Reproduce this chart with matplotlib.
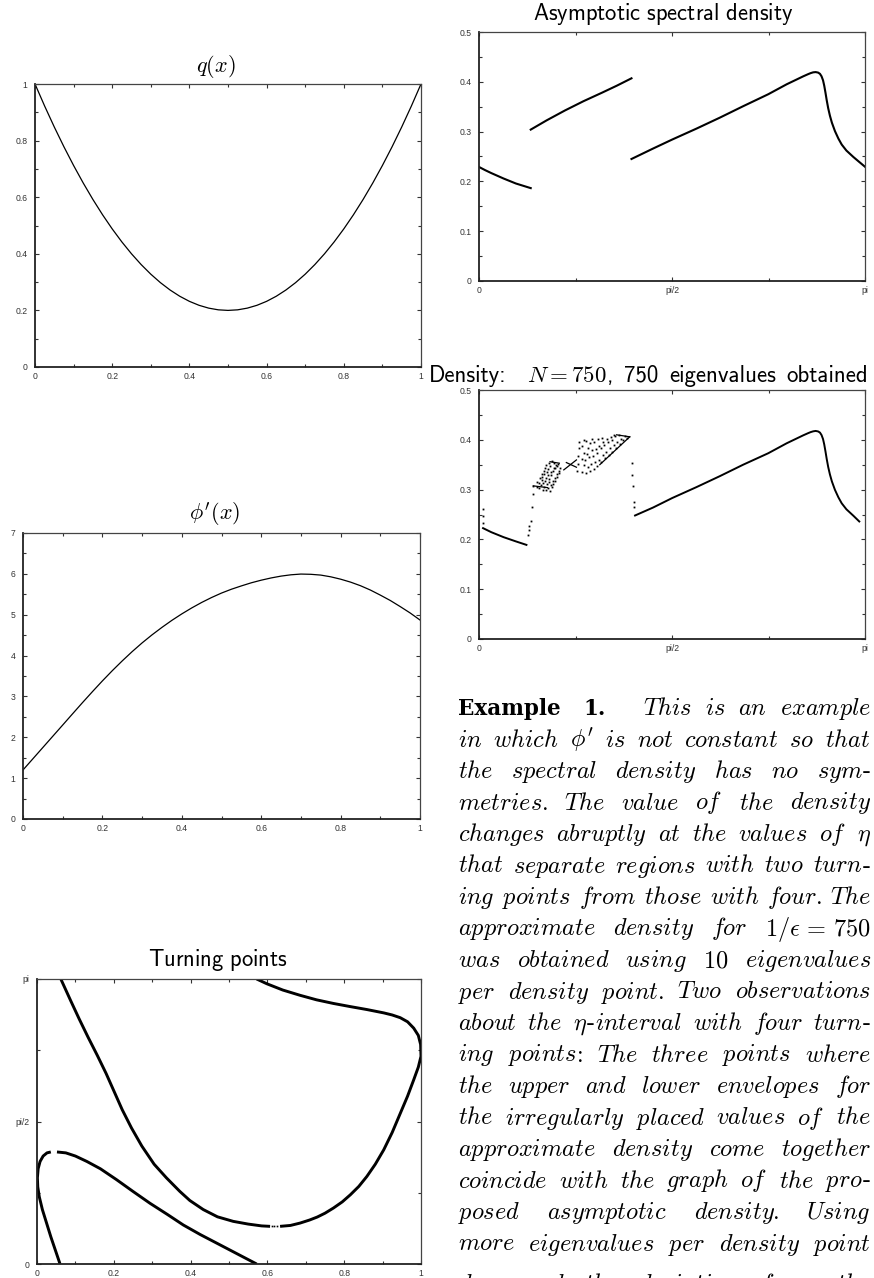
import os
import re
import numpy as np
import matplotlib
matplotlib.use("Agg")
import matplotlib.pyplot as plt
from matplotlib.ticker import FixedLocator, FixedFormatter
from matplotlib.font_manager import FontProperties

plt.rcParams['mathtext.fontset'] = 'cm'

PI = np.pi
TTF = os.path.join(matplotlib.get_data_path(), 'fonts', 'ttf')

# ---------------- data ----------------
# q(x)
q_x = [0.000, 0.025, 0.050, 0.075, 0.100, 0.125, 0.150, 0.175, 0.200, 0.225,
       0.250, 0.275, 0.300, 0.325, 0.350, 0.375, 0.400, 0.425, 0.450, 0.475,
       0.500, 0.525, 0.550, 0.575, 0.600, 0.625, 0.650, 0.675, 0.700, 0.725,
       0.750, 0.775, 0.800, 0.825, 0.850, 0.875, 0.900, 0.925, 0.950, 0.975, 1.000]
q_y = [1.000, 0.922, 0.848, 0.778, 0.712, 0.650, 0.592, 0.538, 0.488, 0.442,
       0.400, 0.362, 0.328, 0.298, 0.272, 0.250, 0.232, 0.218, 0.208, 0.202,
       0.200, 0.202, 0.208, 0.218, 0.232, 0.250, 0.272, 0.298, 0.328, 0.362,
       0.400, 0.442, 0.488, 0.538, 0.592, 0.650, 0.712, 0.778, 0.848, 0.922, 1.000]

# phi'(x)
dphi_x = q_x
dphi_y = [1.200, 1.475, 1.750, 2.025, 2.300, 2.576, 2.850, 3.118, 3.380, 3.631,
          3.870, 4.097, 4.310, 4.507, 4.690, 4.862, 5.020, 5.166, 5.300, 5.421,
          5.530, 5.624, 5.705, 5.781, 5.845, 5.900, 5.945, 5.977, 5.995, 5.989,
          5.970, 5.928, 5.870, 5.798, 5.710, 5.604, 5.480, 5.349, 5.200, 5.044, 4.870]

# asymptotic spectral density: three branches
as1_x = [0.000, 0.050, 0.100, 0.200, 0.300, 0.421]
as1_y = [0.2290, 0.2226, 0.2167, 0.2058, 0.1958, 0.1865]
as2_x = [0.421, 0.550, 0.700, 0.850, 1.000, 1.120, 1.241]
as2_y = [0.3040, 0.3225, 0.3425, 0.3610, 0.3780, 0.3920, 0.4070]
as3_x = [1.241, 1.417, 1.572, 1.770, 1.960, 2.150, 2.354, 2.504, 2.580, 2.639,
         2.680, 2.700, 2.720, 2.740, 2.760, 2.775, 2.788, 2.800, 2.810, 2.820,
         2.830, 2.842, 2.856, 2.872, 2.897, 2.925, 2.952, 2.990, 3.047, 3.095, 3.142]
as3_y = [0.2450, 0.2660, 0.2840, 0.3060, 0.3280, 0.3510, 0.3750, 0.3950, 0.4040, 0.4110,
         0.4155, 0.4175, 0.4190, 0.4195, 0.4185, 0.4160, 0.4110, 0.4030, 0.3920, 0.3780,
         0.3630, 0.3470, 0.3320, 0.3180, 0.3010, 0.2860, 0.2740, 0.2620, 0.2490, 0.2390, 0.2293]

# approximate density, N = 750
dn1_x = [0.033, 0.100, 0.200, 0.300, 0.386]
dn1_y = [0.2226, 0.2145, 0.2045, 0.1960, 0.1890]
dn3_x = [1.270, 1.417, 1.572, 1.770, 1.960, 2.150, 2.354, 2.504, 2.580, 2.639,
         2.680, 2.700, 2.720, 2.740, 2.760, 2.775, 2.788, 2.800, 2.810, 2.820,
         2.830, 2.842, 2.856, 2.872, 2.897, 2.925, 2.952, 2.990, 3.047, 3.095]
dn3_y = [0.2480, 0.2640, 0.2830, 0.3050, 0.3270, 0.3500, 0.3730, 0.3930, 0.4020, 0.4090,
         0.4135, 0.4155, 0.4170, 0.4178, 0.4168, 0.4145, 0.4095, 0.4015, 0.3905, 0.3765,
         0.3615, 0.3455, 0.3305, 0.3165, 0.2995, 0.2845, 0.2725, 0.2605, 0.2475, 0.2360]
# short stretches where neighbouring density values join up
dn_seg_x = [[0.442, 0.557], [0.578, 0.654], [0.690, 0.793], [0.711, 0.793],
            [0.983, 1.227], [1.120, 1.227]]
dn_seg_y = [[0.3075, 0.3040], [0.3560, 0.3530], [0.3396, 0.3596], [0.3543, 0.3449],
            [0.3500, 0.4060], [0.4100, 0.4060]]
# isolated density values
dn_dot_x = [0.030, 0.031, 0.032,
            0.396, 0.404, 0.410, 0.421, 0.429, 0.437, 0.442,
            1.243, 1.248, 1.254, 1.259, 1.264,
            0.468, 0.474, 0.486, 0.491, 0.495, 0.501, 0.509, 0.512,
            0.517, 0.523, 0.514, 0.527, 0.531, 0.538, 0.529, 0.541,
            0.547, 0.553, 0.544, 0.556, 0.549, 0.562, 0.568, 0.565, 0.559, 0.571,
            0.576, 0.583, 0.573, 0.588, 0.581, 0.597, 0.594, 0.601, 0.590, 0.608, 0.612,
            0.606, 0.618, 0.603, 0.628, 0.621, 0.633, 0.617, 0.641,
            0.637, 0.648, 0.632, 0.652, 0.660,
            0.800, 0.803, 0.806, 0.810, 0.815,
            0.838, 0.851, 0.842, 0.857, 0.836, 0.853,
            0.871, 0.884, 0.866, 0.881, 0.889, 0.870,
            0.904, 0.913, 0.898, 0.917, 0.902, 0.922,
            0.934, 0.945, 0.929, 0.949, 0.938,
            0.964, 0.973, 0.958, 0.979, 0.968,
            0.994, 1.006, 0.989, 1.011, 0.999,
            1.024, 1.035, 1.019, 1.041,
            1.054, 1.066, 1.049, 1.071,
            1.084, 1.097, 1.079, 1.101,
            1.114, 1.126, 1.109,
            1.144, 1.157, 1.139,
            1.174, 1.187, 1.205]
dn_dot_y = [0.262, 0.247, 0.233,
            0.209, 0.218, 0.226, 0.236, 0.266, 0.292, 0.307,
            0.353, 0.329, 0.307, 0.276, 0.265,
            0.306, 0.316, 0.304, 0.313, 0.324, 0.309, 0.319, 0.331,
            0.300, 0.313, 0.326, 0.338, 0.305, 0.318, 0.331, 0.344,
            0.299, 0.311, 0.323, 0.336, 0.349, 0.303, 0.316, 0.329, 0.342, 0.354,
            0.298, 0.310, 0.322, 0.335, 0.347, 0.357, 0.305, 0.318, 0.330, 0.343, 0.353,
            0.312, 0.324, 0.337, 0.350, 0.318, 0.331, 0.344, 0.352,
            0.326, 0.338, 0.348, 0.333, 0.344,
            0.338, 0.352, 0.368, 0.384, 0.395,
            0.336, 0.349, 0.361, 0.374, 0.388, 0.399,
            0.334, 0.346, 0.359, 0.371, 0.384, 0.397,
            0.338, 0.352, 0.365, 0.379, 0.393, 0.402,
            0.342, 0.356, 0.368, 0.381, 0.395,
            0.347, 0.360, 0.374, 0.388, 0.401,
            0.356, 0.369, 0.383, 0.396, 0.404,
            0.363, 0.376, 0.389, 0.401,
            0.370, 0.383, 0.395, 0.406,
            0.376, 0.389, 0.400, 0.409,
            0.384, 0.396, 0.408,
            0.391, 0.402, 0.410,
            0.399, 0.408, 0.404]

# turning points (x, eta)
tp_a_x = [0.062, 0.088, 0.110, 0.133, 0.157, 0.180, 0.201, 0.222, 0.246, 0.273,
          0.305, 0.337, 0.372, 0.398, 0.433, 0.470, 0.511, 0.550, 0.585, 0.607]
tp_a_y = [3.1416, 2.900, 2.700, 2.500, 2.300, 2.100, 1.900, 1.700, 1.500, 1.300,
          1.100, 0.950, 0.800, 0.700, 0.600, 0.520, 0.470, 0.440, 0.420, 0.415]
tp_b_x = [0.633, 0.660, 0.685, 0.710, 0.730, 0.750, 0.772, 0.795, 0.816, 0.838,
          0.859, 0.881, 0.903, 0.925, 0.946, 0.965, 0.981, 0.993, 1.000, 0.999,
          0.993, 0.981, 0.965, 0.946, 0.925, 0.903, 0.859, 0.815, 0.772, 0.728,
          0.685, 0.640, 0.598, 0.572]
tp_b_y = [0.415, 0.425, 0.451, 0.485, 0.518, 0.560, 0.617, 0.685, 0.763, 0.855,
          0.965, 1.100, 1.259, 1.450, 1.660, 1.850, 2.030, 2.170, 2.290, 2.420,
          2.520, 2.600, 2.670, 2.715, 2.745, 2.768, 2.805, 2.838, 2.872, 2.912,
          2.962, 3.020, 3.090, 3.1416]
tp_c_x = [0.060, 0.048, 0.036, 0.025, 0.014, 0.006, 0.002, 0.001, 0.003, 0.008,
          0.016, 0.026, 0.036]
tp_c_y = [0.000, 0.150, 0.300, 0.450, 0.600, 0.740, 0.850, 0.950, 1.050, 1.130,
          1.190, 1.225, 1.235]
tp_d_x = [0.052, 0.075, 0.100, 0.130, 0.165, 0.207, 0.250, 0.294, 0.340, 0.381,
          0.425, 0.468, 0.520, 0.572]
tp_d_y = [1.235, 1.225, 1.190, 1.130, 1.050, 0.930, 0.800, 0.670, 0.545, 0.430,
          0.325, 0.230, 0.115, 0.000]
tp_gap_x = [0.612, 0.618, 0.626]
tp_gap_y = [0.4140, 0.4135, 0.4140]

# tick positions and labels
unit_ticks = [0, 0.2, 0.4, 0.6, 0.8, 1.0]
unit_labels = ["0", "0.2", "0.4", "0.6", "0.8", "1"]
unit_minor = [0.1, 0.3, 0.5, 0.7, 0.9]
dphi_ticks = [0, 1, 2, 3, 4, 5, 6, 7]
dphi_labels = ["0", "1", "2", "3", "4", "5", "6", "7"]
dphi_minor = [0.5, 1.5, 2.5, 3.5, 4.5, 5.5, 6.5]
angle_ticks = [0, PI / 2, PI]
angle_labels = ["0", "pi/2", "pi"]
angle_minor = [PI / 4, 3 * PI / 4]
dens_ticks = [0, 0.1, 0.2, 0.3, 0.4, 0.5]
dens_labels = ["0", "0.1", "0.2", "0.3", "0.4", "0.5"]
dens_minor = [0.05, 0.15, 0.25, 0.35, 0.45]

# caption
CAPTION_HEAD = ["Example", "1."]
CAPTION = [
    ["This", "is", "an", "example"],
    ["in", "which", r"$\phi'$", "is", "not", "constant", "so", "that"],
    ["the", "spectral", "density", "has", "no", "sym-"],
    ["metries.", "The", "value", "of", "the", "density"],
    ["changes", "abruptly", "at", "the", "values", "of", r"$\eta$"],
    ["that", "separate", "regions", "with", "two", "turn-"],
    ["ing", "points", "from", "those", "with", "four.", "The"],
    ["approximate", "density", "for", r"$\mathrm{1}/\epsilon\,=\,\mathrm{750}$"],
    ["was", "obtained", "using", "10", "eigenvalues"],
    ["per", "density", "point.", "Two", "observations"],
    ["about", "the", r"$\eta$-interval", "with", "four", "turn-"],
    ["ing", "points:", "The", "three", "points", "where"],
    ["the", "upper", "and", "lower", "envelopes", "for"],
    ["the", "irregularly", "placed", "values", "of", "the"],
    ["approximate", "density", "come", "together"],
    ["coincide", "with", "the", "graph", "of", "the", "pro-"],
    ["posed", "asymptotic", "density.", "Using"],
    ["more", "eigenvalues", "per", "density", "point"],
    ["decreased", "the", "deviation", "from", "the"],
]

# ---------------- figure ----------------
W, H = 874, 1278
fig = plt.figure(figsize=(W / 100, H / 100), dpi=100)
renderer = fig.canvas.get_renderer()


def add_axes(left, top, right, bottom):
    return fig.add_axes([left / W, 1 - bottom / H, (right - left) / W, (bottom - top) / H])


def style(ax, xt, xl, xm, yt, yl, ym, xlim, ylim):
    ax.set_xlim(*xlim)
    ax.set_ylim(*ylim)
    ax.xaxis.set_major_locator(FixedLocator(xt))
    ax.xaxis.set_major_formatter(FixedFormatter(xl))
    ax.xaxis.set_minor_locator(FixedLocator(xm))
    ax.yaxis.set_major_locator(FixedLocator(yt))
    ax.yaxis.set_major_formatter(FixedFormatter(yl))
    ax.yaxis.set_minor_locator(FixedLocator(ym))
    ax.tick_params(which='both', direction='in', top=True, right=True,
                   color='#333333', width=0.8)
    ax.tick_params(which='major', length=3.2)
    ax.tick_params(which='minor', length=2.2)
    ax.tick_params(axis='y', pad=5.5)
    ax.tick_params(axis='x', pad=3.5)
    for lab in ax.get_xticklabels() + ax.get_yticklabels():
        lab.set_fontfamily('Liberation Sans')
        lab.set_fontsize(6.2)
        lab.set_color('#333333')
    for side in ('left', 'bottom'):
        ax.spines[side].set_linewidth(1.3)
        ax.spines[side].set_color('#222222')
    for side in ('top', 'right'):
        ax.spines[side].set_linewidth(0.9)
        ax.spines[side].set_color('#444444')


def title(x, y, s, size=16):
    fig.text(x / W, 1 - y / H, s, ha='center', va='center', fontsize=size, color='black')


# q(x)
ax = add_axes(35, 84, 421, 367)
ax.plot(q_x, q_y, color='black', lw=0.9)
style(ax, unit_ticks, unit_labels, unit_minor, unit_ticks, unit_labels, unit_minor,
      (0, 1), (0, 1))
title(216, 66, r"$q(x)$")

# phi'(x)
ax = add_axes(23, 533, 420, 819)
ax.plot(dphi_x, dphi_y, color='black', lw=0.9)
style(ax, unit_ticks, unit_labels, unit_minor, dphi_ticks, dphi_labels, dphi_minor,
      (0, 1), (0, 7))
title(215, 514, r"$\phi'(x)$")

# turning points
ax = add_axes(37, 979, 421, 1264)
for xs, ys in ((tp_a_x, tp_a_y), (tp_b_x, tp_b_y), (tp_c_x, tp_c_y), (tp_d_x, tp_d_y)):
    ax.plot(xs, ys, color='black', lw=2.1, solid_capstyle='butt', solid_joinstyle='round')
ax.plot(tp_gap_x, tp_gap_y, 's', color='black', ms=1.2, mew=0)
style(ax, unit_ticks, unit_labels, unit_minor, angle_ticks, angle_labels, angle_minor,
      (0, 1), (0, PI))
title(218, 960, r"$\mathsf{Turning\ points}$", size=16.3)

# asymptotic spectral density
ax = add_axes(479, 32, 865, 281)
for xs, ys in ((as1_x, as1_y), (as2_x, as2_y), (as3_x, as3_y)):
    ax.plot(xs, ys, color='black', lw=1.5, solid_joinstyle='round')
style(ax, angle_ticks, angle_labels, angle_minor, dens_ticks, dens_labels, dens_minor,
      (0, PI), (0, 0.5))
title(663, 14, r"$\mathsf{Asymptotic\ spectral\ density}$", size=16.3)

# approximate density
ax = add_axes(479, 390, 865, 639)
for xs, ys in ((dn1_x, dn1_y), (dn3_x, dn3_y)):
    ax.plot(xs, ys, color='black', lw=1.4, solid_joinstyle='round')
for xs, ys in zip(dn_seg_x, dn_seg_y):
    ax.plot(xs, ys, color='black', lw=0.9)
ax.plot(dn_dot_x, dn_dot_y, 's', color='black', ms=1.3, mew=0)
style(ax, angle_ticks, angle_labels, angle_minor, dens_ticks, dens_labels, dens_minor,
      (0, PI), (0, 0.5))

# title of the approximate-density panel, built from sans text and math pieces
TSIZE = 16.5
TBASE = 382
sans_font = FontProperties(fname=os.path.join(TTF, 'cmss10.ttf'), size=TSIZE)
pieces = [("Density:", sans_font, 2.0), (r"$N = 750$", None, 0.0), (",", sans_font, 1.0),
          ("750", sans_font, 1.0), ("eigenvalues", sans_font, 1.0), ("obtained", sans_font, 0.0)]
ptexts = []
for s, fp, _ in pieces:
    if fp is None:
        t = fig.text(0, 1 - TBASE / H, s, fontsize=TSIZE, va='baseline', ha='left')
    else:
        t = fig.text(0, 1 - TBASE / H, s, fontproperties=fp, va='baseline', ha='left')
    ptexts.append(t)
pw = [t.get_window_extent(renderer).width for t in ptexts]
TL, TR = 429, 868
unit_gap = (TR - TL - sum(pw)) / sum(p[2] for p in pieces)
x = TL
for t, w, p in zip(ptexts, pw, pieces):
    t.set_x(x / W)
    x += w + unit_gap * p[2]

# ---------------- caption, justified ----------------
FS = 17.5
TEXT_L, TEXT_R = 458, 871
BASE0, LEAD = 715, 31.5
roman_font = FontProperties(fname=os.path.join(TTF, 'cmr10.ttf'), size=FS)
head_font = FontProperties(family='DejaVu Serif', weight='bold', size=15.5)


def plain_to_math(s):
    out = []
    for run in re.findall(r"[A-Za-z]+|[0-9]+|.", s):
        if run.isalpha():
            out.append(r"\mathit{%s}" % run)
        elif run.isdigit():
            out.append(r"\mathrm{%s}" % run)
        else:
            out.append(run)
    return "$" + "".join(out) + "$"


def token_parts(tok):
    parts = []
    for seg in re.split(r"(\$[^$]*\$)", tok):
        if not seg:
            continue
        if seg.startswith("$"):
            parts.append(("m", seg))
            continue
        for piece in re.split(r"([-:])", seg):
            if not piece:
                continue
            if piece in "-:":
                parts.append(("r", piece))
            else:
                parts.append(("m", plain_to_math(piece)))
    return parts


def set_line(tokens, y_px, left, right):
    y = 1 - y_px / H
    toks = []
    for tok in tokens:
        texts = []
        for kind, s in token_parts(tok):
            if kind == "m":
                t = fig.text(0, y, s, fontsize=FS, va='baseline', ha='left', color='black')
            else:
                t = fig.text(0, y, s, fontproperties=roman_font, va='baseline', ha='left',
                             color='black')
            texts.append(t)
        widths = [t.get_window_extent(renderer).width for t in texts]
        toks.append((texts, widths))
    total = sum(sum(w) for _, w in toks)
    gap = (right - left - total) / max(len(toks) - 1, 1)
    x = left
    for texts, widths in toks:
        for t, w in zip(texts, widths):
            t.set_x(x / W)
            x += w
        x += gap


# bold run-in heading
fig.text(TEXT_L / W, 1 - BASE0 / H, CAPTION_HEAD[0], fontproperties=head_font,
         va='baseline', ha='left', color='black')
fig.text(583 / W, 1 - BASE0 / H, CAPTION_HEAD[1], fontproperties=head_font,
         va='baseline', ha='left', color='black')

for li, line in enumerate(CAPTION):
    yb = BASE0 + li * LEAD + (9 if li == len(CAPTION) - 1 else 0)
    set_line(line, yb, 643 if li == 0 else TEXT_L, TEXT_R)

fig.savefig("out.png", dpi=100)
